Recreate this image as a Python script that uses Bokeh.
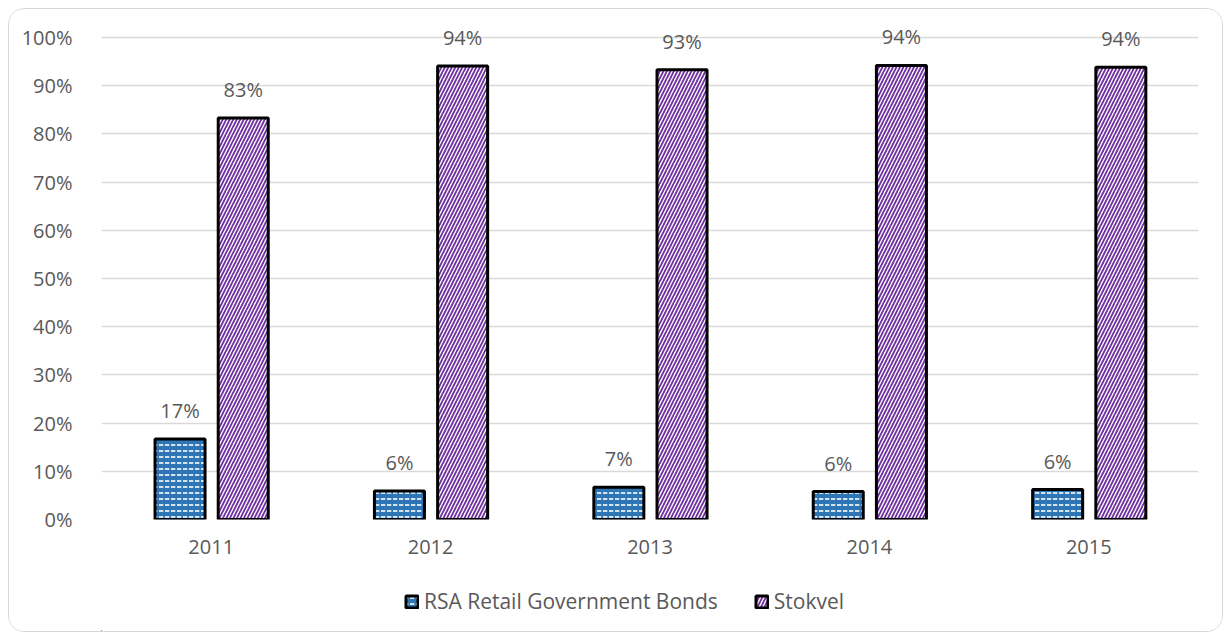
from bokeh.plotting import figure
from bokeh.layouts import column
from bokeh.core.properties import value
from bokeh.models import ColumnDataSource, LabelSet, Legend, LegendItem, NumeralTickFormatter, FixedTicker
from bokeh.transform import dodge
from bokeh.embed import file_html
from bokeh.resources import INLINE

years = ["2011", "2012", "2013", "2014", "2015"]
bonds = [0.167, 0.059, 0.067, 0.058, 0.062]
stokvel = [0.833, 0.941, 0.933, 0.942, 0.938]
bond_labels = ["17%", "6%", "7%", "6%", "6%"]
stokvel_labels = ["83%", "94%", "93%", "94%", "94%"]
series_names = ["RSA Retail Government Bonds", "Stokvel"]
y_ticks = [0, 0.1, 0.2, 0.3, 0.4, 0.5, 0.6, 0.7, 0.8, 0.9, 1.0]

FONT = "Open Sans"
TXT = "#595959"
FS = "20px"

BOND_STYLE = dict(fill_color="#2E75B6", line_color="black", line_width=3,
                  hatch_pattern="horizontal_dash", hatch_color="white", hatch_scale=6, hatch_weight=1.6)
STOK_STYLE = dict(fill_color="white", line_color="black", line_width=3,
                  hatch_pattern="right_diagonal_line", hatch_color="#7030A0", hatch_scale=7, hatch_weight=1.8)

src = ColumnDataSource(dict(years=years, bonds=bonds, stokvel=stokvel,
                            bl=bond_labels, sl=stokvel_labels))

p = figure(x_range=years, y_range=(0, 1.0456), width=1213, height=566,
           output_backend="svg", toolbar_location=None,
           min_border_left=92, min_border_right=24, min_border_top=6, min_border_bottom=56)
p.outline_line_color = None
p.background_fill_color = "white"
p.border_fill_color = "white"

p.vbar(x=dodge("years", -0.142, range=p.x_range), top="bonds", width=0.228, source=src, **BOND_STYLE)
p.vbar(x=dodge("years", 0.146, range=p.x_range), top="stokvel", width=0.228, source=src, **STOK_STYLE)

for xo, col, top in [(-0.142, "bl", "bonds"), (0.146, "sl", "stokvel")]:
    ls = LabelSet(x=dodge("years", xo, range=p.x_range), y=top, text=col, source=src,
                  text_align="center", text_baseline="alphabetic", y_offset=21,
                  text_font=value(FONT), text_font_size=value(FS), text_color=TXT)
    p.add_layout(ls)

p.yaxis.ticker = FixedTicker(ticks=y_ticks)
p.yaxis.formatter = NumeralTickFormatter(format="0%")
for ax in (p.xaxis[0], p.yaxis[0]):
    ax.axis_line_color = None
    ax.major_tick_line_color = None
    ax.minor_tick_line_color = None
    ax.major_label_text_font = FONT
    ax.major_label_text_font_size = FS
    ax.major_label_text_color = TXT
p.yaxis.major_label_standoff = 23
p.xaxis.major_label_standoff = 14
p.xgrid.grid_line_color = None
p.ygrid.grid_line_color = "#D9D9D9"
p.ygrid.grid_line_width = 1.5
p.x_range.range_padding = 0

# legend strip
lf = figure(width=1213, height=56, x_range=(0, 1), y_range=(0, 1),
            output_backend="svg", toolbar_location=None,
            x_axis_type=None, y_axis_type=None,
            min_border_left=0, min_border_right=0, min_border_top=0, min_border_bottom=0)
lf.outline_line_color = None
lf.xgrid.grid_line_color = None
lf.ygrid.grid_line_color = None
lf.background_fill_color = "white"
lf.border_fill_color = "white"
dummy = ColumnDataSource(dict(x=[-5.0], top=[0.0]))
g1 = lf.vbar(x="x", top="top", width=0.1, source=dummy, **BOND_STYLE)
g2 = lf.vbar(x="x", top="top", width=0.1, source=dummy, **STOK_STYLE)
legend = Legend(items=[LegendItem(label=series_names[0], renderers=[g1], index=0),
                       LegendItem(label=series_names[1], renderers=[g2], index=0)],
                orientation="horizontal", location=(303, 16),
                label_text_font=FONT, label_text_font_size="21px", label_text_color=TXT,
                glyph_width=15, glyph_height=15, spacing=36, label_standoff=5,
                border_line_color=None, background_fill_alpha=0, padding=0, margin=0)
lf.add_layout(legend, "center")

layout = column(p, lf, spacing=0)
layout.margin = (8, 8, 8, 8)
layout.styles = {"border": "1.5px solid #D9D9D9", "border-radius": "16px", "box-sizing": "border-box",
                 "overflow": "hidden"}

open("out.html", "w").write(file_html(layout, INLINE))
